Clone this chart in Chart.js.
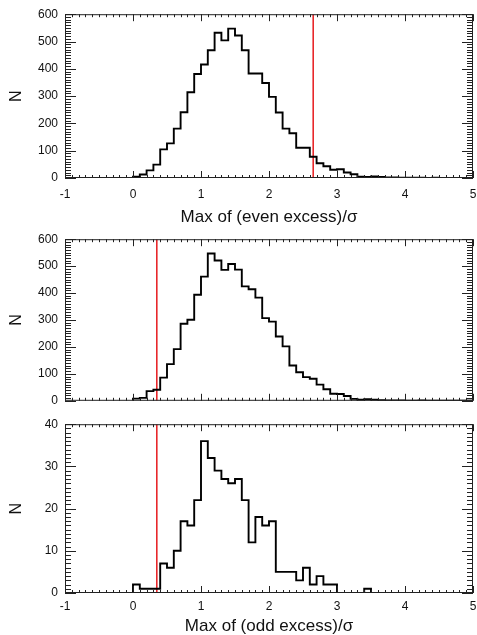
<!DOCTYPE html>
<html>
<head>
<meta charset="utf-8">
<script src="https://cdn.jsdelivr.net/npm/chart.js@4.4.1/dist/chart.umd.min.js"></script>
<style>
  html, body { margin:0; padding:0; background:#fff; }
  body { width:477px; height:635px; position:relative; overflow:hidden; }
  canvas { position:absolute; left:0; }
</style>
</head>
<body>
<canvas id="c1" width="477" height="232" style="top:0"></canvas>
<canvas id="c2" width="477" height="190" style="top:225px"></canvas>
<canvas id="c3" width="477" height="227" style="top:410px"></canvas>
<script>
/* ── data ── */
const BIN_LO = [0.0,0.1,0.2,0.3,0.4,0.5,0.6,0.7,0.8,0.9,
                1.0,1.1,1.2,1.3,1.4,1.5,1.6,1.7,1.8,1.9,
                2.0,2.1,2.2,2.3,2.4,2.5,2.6,2.7,2.8,2.9,
                3.0,3.1,3.2,3.3,3.4,3.5,3.6,3.7,3.8,3.9,
                4.0,4.1,4.2,4.3,4.4,4.5,4.6,4.7,4.8,4.9];

// top panel: max of (even excess)/sigma
const EVEN_TOP = [2,5,13,28,49,105,127,181,241,314,
                  381,416,468,532,504,547,522,468,383,383,
                  348,297,240,181,164,111,111,78,54,43,
                  30,32,20,14,5,4,6,4,2,2,
                  1,1,1,1,0,1,0,0,0,0];
// middle panel
const EVEN_MID = [5,8,11,36,41,86,136,192,286,301,
                  394,461,547,521,486,508,487,425,414,383,
                  307,294,239,202,131,106,88,82,60,43,
                  26,25,18,7,4,6,4,2,1,1,
                  1,0,0,1,0,0,0,0,0,0];
// bottom panel: max of (odd excess)/sigma
const ODD = [0,2,1,1,1,7,6,10,17,16,
             22,36,32,29,27,26,27,22,12,18,
             16,17,5,5,5,3,6,2,4,2,
             2,0,0,0,0,1,0,0,0,0,
             0,0,0,0,0,0,0,0,0,0];

const CUT_TOP = 2.65, CUT_MID = 0.35, CUT_ODD = 0.35;
const X_MIN = -1, X_MAX = 5;

const FONT = 'Liberation Sans, Arial, Helvetica, sans-serif';

function stepPoints(counts) {
  const pts = [{x:BIN_LO[0], y:0}];
  BIN_LO.forEach((x,i) => pts.push({x, y:counts[i]}));
  pts.push({x:X_MAX, y:counts[counts.length-1]});
  return pts;
}

/* ── IDL-style box with inward ticks ── */
const idlFrame = {
  id:'idlFrame',
  afterDatasetsDraw(chart, args, o) {
    const {ctx, chartArea:a, scales:{x, y}} = chart;
    ctx.save();
    ctx.strokeStyle = '#222';
    ctx.lineWidth = 1;
    ctx.strokeRect(a.left+.5, a.top+.5, a.right-a.left-1, a.bottom-a.top-1);
    ctx.beginPath();
    for (let i = 0; i <= 60; i++) {
      const px = Math.round(x.getPixelForValue(X_MIN + i*0.1)) + .5;
      const len = i % 10 === 0 ? 7 : 3;
      ctx.moveTo(px, a.bottom); ctx.lineTo(px, a.bottom-len);
      ctx.moveTo(px, a.top);    ctx.lineTo(px, a.top+len);
    }
    const n = Math.round(y.max / o.yMinor);
    const every = Math.round(o.yStep / o.yMinor);
    for (let i = 0; i <= n; i++) {
      const py = Math.round(y.getPixelForValue(i*o.yMinor)) + .5;
      const len = i % every === 0 ? 11 : 6;
      ctx.moveTo(a.left, py);  ctx.lineTo(a.left+len, py);
      ctx.moveTo(a.right, py); ctx.lineTo(a.right-len, py);
    }
    ctx.stroke();
    ctx.restore();
  }
};

function buildPanel(id, counts, cut, yMax, yStep, yMinor, cfg) {
  new Chart(document.getElementById(id), {
    type:'line',
    data:{
      datasets:[
        { data:stepPoints(counts), stepped:'after', borderColor:'#000', borderWidth:1.9, pointRadius:0, fill:false },
        { data:[{x:cut,y:0},{x:cut,y:yMax}], borderColor:'#e8282b', borderWidth:1.6, pointRadius:0, fill:false }
      ]
    },
    options:{
      responsive:false, animation:false,
      layout:{ padding:{ top:cfg.padTop, right:4, left:0, bottom:0 } },
      plugins:{ legend:{display:false}, tooltip:{enabled:false}, idlFrame:{ yStep, yMinor } },
      scales:{
        x:{ type:'linear', min:X_MIN, max:X_MAX,
            grid:{display:false, drawTicks:false}, border:{display:false},
            ticks:{ display:cfg.showX, stepSize:1, padding:cfg.tickPad, maxRotation:0, color:'#111', font:{family:FONT, size:12} },
            title:{ display:cfg.showX, text:cfg.title, color:'#111', padding:{top:0,bottom:cfg.titlePad}, font:{family:FONT, size:17} },
            afterFit(s){ s.height = cfg.xH; s.paddingRight = 0; s.paddingLeft = 0; } },
        y:{ min:0, max:yMax,
            grid:{display:false, drawTicks:false}, border:{display:false},
            ticks:{ stepSize:yStep, padding:7, color:'#111', font:{family:FONT, size:12} },
            title:{ display:true, text:'N', color:'#111', padding:{top:7,bottom:0}, font:{family:FONT, size:16} },
            afterFit(s){ s.width = 65; } }
      }
    },
    plugins:[idlFrame]
  });
}

window.addEventListener('DOMContentLoaded', () => {
  buildPanel('c1', EVEN_TOP, CUT_TOP, 600, 100, 10, { padTop:12, xH:54, showX:true, tickPad:9, title:'Max of (even excess)/σ', titlePad:4 });
  buildPanel('c2', EVEN_MID, CUT_MID, 600, 100, 10, { padTop:13, xH:11, showX:false, tickPad:0, title:'', titlePad:0 });
  buildPanel('c3', ODD,      CUT_ODD,  40,  10,  1, { padTop:14, xH:44, showX:true, tickPad:6, title:'Max of (odd excess)/σ', titlePad:0 });
});
</script>
</body>
</html>
